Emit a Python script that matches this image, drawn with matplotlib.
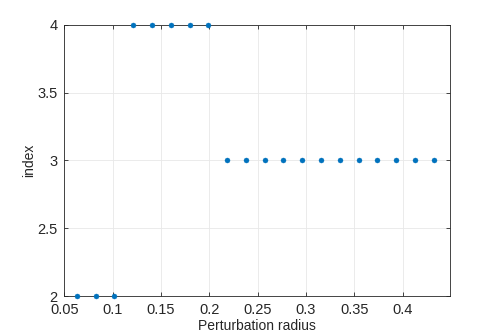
import matplotlib
matplotlib.use("Agg")
import matplotlib.pyplot as plt

radius = [0.0631, 0.0825, 0.1019, 0.1213, 0.1407, 0.1602, 0.1796, 0.1990,
          0.2184, 0.2379, 0.2573, 0.2767, 0.2961, 0.3155, 0.3350, 0.3544,
          0.3738, 0.3932, 0.4127, 0.4321]
index = [2, 2, 2, 4, 4, 4, 4, 4, 3, 3, 3, 3, 3, 3, 3, 3, 3, 3, 3, 3]
xticks = [0.05, 0.1, 0.15, 0.2, 0.25, 0.3, 0.35, 0.4]
xticklabels = ['0.05', '0.1', '0.15', '0.2', '0.25', '0.3', '0.35', '0.4']
yticks = [2, 2.5, 3, 3.5, 4]
yticklabels = ['2', '2.5', '3', '3.5', '4']

plt.rcParams['font.family'] = ['Liberation Sans', 'DejaVu Sans']
axcol = '#262626'

fig = plt.figure(figsize=(4.98, 3.35), dpi=100)
ax = fig.add_axes([0.129, 0.1164, 0.7746, 0.809])
ax.plot(radius, index, linestyle='none', marker='o', markersize=3.6,
        markerfacecolor='#0072BD', markeredgecolor='#0072BD', markeredgewidth=0.3,
        clip_on=False, zorder=3)
ax.set_xlim(0.05, 0.449)
ax.set_ylim(2, 4)
ax.set_xticks(xticks)
ax.set_xticklabels(xticklabels)
ax.set_yticks(yticks)
ax.set_yticklabels(yticklabels)
ax.grid(True, color='#e8e8e8', linewidth=0.6)
ax.set_axisbelow(True)
for s in ax.spines.values():
    s.set_color(axcol)
    s.set_linewidth(0.6)
ax.tick_params(direction='in', length=3, width=0.6, colors=axcol,
               labelsize=10.5, top=True, right=True, labelcolor=axcol)
ax.tick_params(axis='x', pad=5)
ax.tick_params(axis='y', pad=5)
ax.set_xlabel('Perturbation radius', fontsize=10, color=axcol, labelpad=1.5)
ax.set_ylabel('index', fontsize=10, color=axcol, labelpad=1)
fig.savefig('out.png', dpi=100)
